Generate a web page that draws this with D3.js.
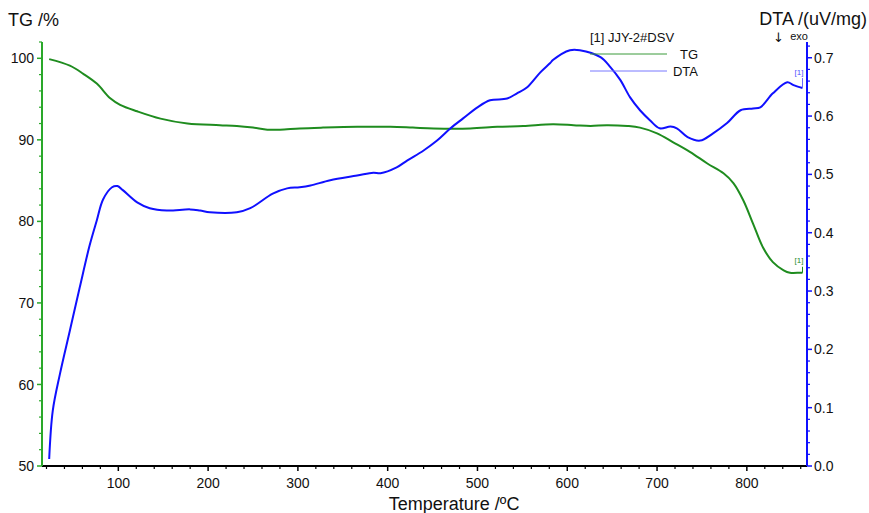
<!DOCTYPE html>
<html lang="en">
<head>
    <meta charset="UTF-8">
    <title>TG / DTA</title>
    <script src="https://d3js.org/d3.v7.min.js"></script>
</head>

<style>
    body {
        margin: 0;
        background: #fff;
    }
    text {
        font-family: "Liberation Sans", Arial, sans-serif;
        fill: #111;
    }
    .tick-label { font-size: 14px; }
    .axis-title { font-size: 18px; }
    .legend text { font-size: 13px; }
</style>

<body>
<svg width="869" height="513"></svg>

<script>

    // TG curve (temperature in ºC, mass in %)
    var tgTemp  = [23, 46, 61, 76, 91, 102, 121, 147, 177, 213, 232, 250, 266, 280, 302, 328, 366, 403, 428, 451, 492, 522, 551, 584, 607, 626, 644, 667, 681, 700, 718, 737, 756, 774, 785, 796, 807, 818, 829, 841, 848, 859, 862];
    var tgValue = [99.9, 99.1, 98.1, 96.9, 95.1, 94.3, 93.5, 92.6, 92.0, 91.8, 91.7, 91.5, 91.25, 91.25, 91.4, 91.5, 91.6, 91.6, 91.5, 91.4, 91.4, 91.6, 91.7, 91.9, 91.8, 91.7, 91.8, 91.7, 91.5, 90.8, 89.7, 88.5, 87.1, 85.9, 84.7, 82.6, 79.7, 76.8, 75.0, 74.0, 73.7, 73.7, 73.7];

    // DTA curve (uV/mg)
    var dtaTemp  = [23, 27, 35, 46, 57, 68, 76, 83, 93, 99, 105, 121, 135, 154, 180, 191, 202, 232, 247, 272, 288, 302, 314, 336, 366, 384, 392, 410, 422, 440, 455, 470, 484, 500, 514, 533, 544, 555, 570, 581, 584, 603, 614, 637, 648, 659, 670, 681, 692, 703, 715, 722, 734, 748, 762, 778, 793, 807, 815, 829, 845, 852, 862];
    var dtaValue = [0.012, 0.095, 0.158, 0.232, 0.306, 0.378, 0.421, 0.457, 0.478, 0.480, 0.473, 0.452, 0.442, 0.438, 0.440, 0.438, 0.435, 0.435, 0.442, 0.467, 0.476, 0.478, 0.481, 0.490, 0.498, 0.503, 0.502, 0.512, 0.524, 0.541, 0.558, 0.579, 0.596, 0.615, 0.627, 0.630, 0.639, 0.649, 0.675, 0.691, 0.696, 0.713, 0.713, 0.701, 0.684, 0.662, 0.632, 0.610, 0.593, 0.579, 0.582, 0.579, 0.564, 0.558, 0.570, 0.588, 0.610, 0.613, 0.615, 0.639, 0.658, 0.653, 0.648];

    var xTicks = [100, 200, 300, 400, 500, 600, 700, 800];
    var tgTicks = [50, 60, 70, 80, 90, 100];
    var dtaTicks = [0.0, 0.1, 0.2, 0.3, 0.4, 0.5, 0.6, 0.7];

    var tgColor = "#1f8c1f",
        tgAxisColor = "#2aa82a",
        dtaColor = "#1010ff";

    var svg = d3.select("svg");

    var x = d3.scaleLinear().domain([15, 867]).range([42, 807]);
    var yTG = d3.scaleLinear().domain([50, 102]).range([466, 42]);
    var yDTA = d3.scaleLinear().domain([0, 0.727]).range([466, 42]);

    // minor ticks
    var xMinor = d3.range(20, 867, 20).filter(function(d) { return d % 100 != 0; });
    var tgMinor = d3.range(52, 102.1, 2).filter(function(d) { return d % 10 != 0; });
    var dtaMinor = d3.range(0.02, 0.73, 0.02).filter(function(d) { return Math.abs(d * 10 - Math.round(d * 10)) > 0.01; });

    // bottom axis
    var gx = svg.append("g");
    gx.append("line")
        .attr("x1", x(15)).attr("x2", x(867))
        .attr("y1", 466).attr("y2", 466)
        .attr("stroke", "#000").attr("stroke-width", 2);
    gx.selectAll(".minor").data(xMinor).enter().append("line")
        .attr("x1", function(d) { return x(d); }).attr("x2", function(d) { return x(d); })
        .attr("y1", 466).attr("y2", 469)
        .attr("stroke", "#000").attr("stroke-width", 1.2);
    gx.selectAll(".major").data(xTicks).enter().append("line")
        .attr("x1", function(d) { return x(d); }).attr("x2", function(d) { return x(d); })
        .attr("y1", 466).attr("y2", 471)
        .attr("stroke", "#000").attr("stroke-width", 1.5);
    gx.selectAll("text").data(xTicks).enter().append("text")
        .attr("class", "tick-label")
        .attr("x", function(d) { return x(d); })
        .attr("y", 488)
        .attr("text-anchor", "middle")
        .text(function(d) { return d; });

    // left TG axis
    var gl = svg.append("g");
    gl.append("line")
        .attr("x1", 42).attr("x2", 42)
        .attr("y1", yTG(50)).attr("y2", yTG(102))
        .attr("stroke", tgAxisColor).attr("stroke-width", 2);
    gl.selectAll(".minor").data(tgMinor).enter().append("line")
        .attr("x1", 39).attr("x2", 42)
        .attr("y1", function(d) { return yTG(d); }).attr("y2", function(d) { return yTG(d); })
        .attr("stroke", tgAxisColor).attr("stroke-width", 1.2);
    gl.selectAll(".major").data(tgTicks).enter().append("line")
        .attr("x1", 37).attr("x2", 42)
        .attr("y1", function(d) { return yTG(d); }).attr("y2", function(d) { return yTG(d); })
        .attr("stroke", tgAxisColor).attr("stroke-width", 1.5);
    gl.selectAll("text").data(tgTicks).enter().append("text")
        .attr("class", "tick-label")
        .attr("x", 34)
        .attr("y", function(d) { return yTG(d); })
        .attr("dy", "0.36em")
        .attr("text-anchor", "end")
        .text(function(d) { return d; });

    // right DTA axis
    var gr = svg.append("g");
    gr.append("line")
        .attr("x1", 807).attr("x2", 807)
        .attr("y1", yDTA(0)).attr("y2", yDTA(0.727))
        .attr("stroke", dtaColor).attr("stroke-width", 2);
    gr.selectAll(".minor").data(dtaMinor).enter().append("line")
        .attr("x1", 807).attr("x2", 810)
        .attr("y1", function(d) { return yDTA(d); }).attr("y2", function(d) { return yDTA(d); })
        .attr("stroke", dtaColor).attr("stroke-width", 1.2);
    gr.selectAll(".major").data(dtaTicks).enter().append("line")
        .attr("x1", 807).attr("x2", 812)
        .attr("y1", function(d) { return yDTA(d); }).attr("y2", function(d) { return yDTA(d); })
        .attr("stroke", dtaColor).attr("stroke-width", 1.5);
    gr.selectAll("text").data(dtaTicks).enter().append("text")
        .attr("class", "tick-label")
        .attr("x", 814)
        .attr("y", function(d) { return yDTA(d); })
        .attr("dy", "0.36em")
        .text(function(d) { return d3.format(".1f")(d); });

    // titles
    svg.append("text").attr("class", "axis-title")
        .attr("x", 8).attr("y", 26).text("TG /%");
    svg.append("text").attr("class", "axis-title")
        .attr("x", 867).attr("y", 25).attr("text-anchor", "end").text("DTA /(uV/mg)");
    svg.append("text")
        .attr("x", 773).attr("y", 42)
        .style("font-family", "'DejaVu Sans'")
        .style("font-size", "13px")
        .text("\u2193");
    svg.append("text")
        .attr("x", 808).attr("y", 40).attr("text-anchor", "end")
        .style("font-size", "11px")
        .text("exo");
    svg.append("text").attr("class", "axis-title")
        .attr("x", x(474)).attr("y", 510).attr("text-anchor", "middle")
        .text("Temperature /ºC");

    // curves
    var tgData = tgTemp.map(function(t, i) { return [t, tgValue[i]]; });
    var dtaData = dtaTemp.map(function(t, i) { return [t, dtaValue[i]]; });

    var tgLine = d3.line()
        .x(function(d) { return x(d[0]); })
        .y(function(d) { return yTG(d[1]); })
        .curve(d3.curveCatmullRom.alpha(0.5));
    var dtaLine = d3.line()
        .x(function(d) { return x(d[0]); })
        .y(function(d) { return yDTA(d[1]); })
        .curve(d3.curveCatmullRom.alpha(0.5));

    svg.append("path").datum(tgData)
        .attr("d", tgLine)
        .attr("fill", "none").attr("stroke", tgColor).attr("stroke-width", 2);
    svg.append("path").datum(dtaData)
        .attr("d", dtaLine)
        .attr("fill", "none").attr("stroke", dtaColor).attr("stroke-width", 2);

    // [1] end markers
    var tgEnd = tgData[tgData.length - 1],
        dtaEnd = dtaData[dtaData.length - 1];
    svg.append("line")
        .attr("x1", x(tgEnd[0])).attr("x2", x(tgEnd[0]))
        .attr("y1", yTG(tgEnd[1])).attr("y2", yTG(tgEnd[1]) - 6)
        .attr("stroke", tgColor).attr("stroke-width", 1);
    svg.append("text")
        .attr("x", x(tgEnd[0]) + 1).attr("y", yTG(tgEnd[1]) - 10)
        .attr("text-anchor", "end")
        .style("font-size", "8px").style("fill", tgColor)
        .text("[1]");
    svg.append("line")
        .attr("x1", x(dtaEnd[0])).attr("x2", x(dtaEnd[0]))
        .attr("y1", yDTA(dtaEnd[1])).attr("y2", yDTA(dtaEnd[1]) - 10)
        .attr("stroke", "#6a6aff").attr("stroke-width", 1);
    svg.append("text")
        .attr("x", x(dtaEnd[0]) + 1).attr("y", yDTA(dtaEnd[1]) - 13)
        .attr("text-anchor", "end")
        .style("font-size", "8px").style("fill", "#5050ff")
        .text("[1]");

    // legend
    var legend = svg.append("g").attr("class", "legend");
    legend.append("text").attr("x", 590).attr("y", 42).text("[1] JJY-2#DSV");
    legend.append("line")
        .attr("x1", 590).attr("x2", 667).attr("y1", 54).attr("y2", 54)
        .attr("stroke", "#3a9a3a").attr("stroke-width", 1);
    legend.append("text").attr("x", 698).attr("y", 59).attr("text-anchor", "end").text("TG");
    legend.append("line")
        .attr("x1", 590).attr("x2", 667).attr("y1", 71).attr("y2", 71)
        .attr("stroke", "#7878ff").attr("stroke-width", 1);
    legend.append("text").attr("x", 698).attr("y", 76).attr("text-anchor", "end").text("DTA");

</script>
</body>
</html>
